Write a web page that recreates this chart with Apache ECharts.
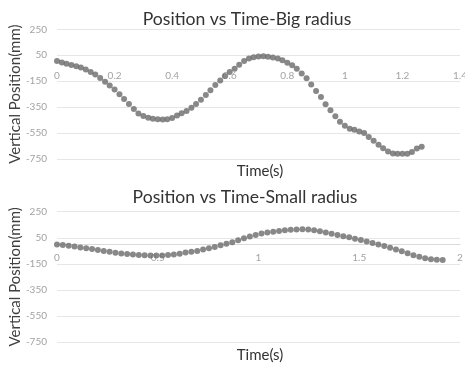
<!DOCTYPE html>
<html>
<head>
<meta charset="utf-8">
<script src="https://cdn.jsdelivr.net/npm/echarts@6/dist/echarts.min.js"></script>
<style>
  html, body { margin: 0; padding: 0; background: #fff; }
  #chart { width: 465px; height: 366px; }
</style>
</head>
<body>
<div id="chart"></div>
<script>
// Big radius run: time (s) and vertical position (mm)
const bigTime = [
  0, 0.017, 0.033, 0.05, 0.067, 0.083, 0.1, 0.117, 0.133, 0.15,
  0.167, 0.183, 0.2, 0.217, 0.233, 0.25, 0.267, 0.283, 0.3, 0.317,
  0.333, 0.35, 0.367, 0.383, 0.4, 0.417, 0.433, 0.45, 0.467, 0.483,
  0.5, 0.517, 0.533, 0.55, 0.567, 0.583, 0.6, 0.617, 0.633, 0.65,
  0.667, 0.683, 0.7, 0.717, 0.733, 0.75, 0.767, 0.783, 0.8, 0.817,
  0.833, 0.85, 0.867, 0.883, 0.9, 0.917, 0.933, 0.95, 0.967, 0.983,
  1.0, 1.017, 1.033, 1.05, 1.067, 1.083, 1.1, 1.117, 1.133, 1.15,
  1.167, 1.183, 1.2, 1.217, 1.233, 1.25, 1.267
];
const bigPos = [
  6, -6, -15, -25, -34, -45, -60, -80, -99, -125,
  -155, -183, -215, -250, -288, -326, -365, -400, -419, -432,
  -440, -443, -446, -444, -434, -414, -397, -380, -355, -326,
  -293, -256, -220, -180, -144, -110, -80, -55, -24, 5,
  24, 34, 40, 42, 38, 33, 24, 11, -7, -27,
  -54, -90, -128, -175, -225, -272, -328, -375, -420, -462,
  -493, -517, -525, -538, -550, -580, -609, -640, -668, -693,
  -708, -710, -710, -710, -696, -670, -655
];

// Small radius run: time (s) and vertical position (mm)
const smallTime = [
  0, 0.029, 0.058, 0.087, 0.116, 0.145, 0.174, 0.203, 0.232, 0.261,
  0.29, 0.319, 0.348, 0.377, 0.406, 0.435, 0.464, 0.493, 0.522, 0.551,
  0.58, 0.609, 0.638, 0.667, 0.696, 0.725, 0.754, 0.783, 0.812, 0.841,
  0.87, 0.899, 0.928, 0.957, 0.986, 1.015, 1.044, 1.073, 1.102, 1.131,
  1.16, 1.189, 1.218, 1.247, 1.276, 1.305, 1.334, 1.363, 1.392, 1.421,
  1.45, 1.479, 1.508, 1.537, 1.566, 1.595, 1.624, 1.653, 1.682, 1.711,
  1.74, 1.769, 1.798, 1.827, 1.856, 1.885, 1.914
];
const smallPos = [
  -2, -6, -12, -18, -24, -30, -37, -44, -51, -58,
  -65, -70, -75, -79, -82, -85, -87, -87, -86, -82,
  -78, -72, -64, -57, -51, -41, -31, -20, -8, 4,
  16, 31, 46, 60, 72, 82, 90, 96, 102, 107,
  111, 114, 115, 113, 108, 100, 91, 81, 71, 62,
  53, 43, 33, 22, 10, -2, -13, -26, -40, -54,
  -69, -84, -96, -107, -114, -118, -121
];

// Axis ranges and text
const yMin = -750, yMax = 250, yStep = 200;
const bigXMax = 1.4, bigXStep = 0.2;
const smallXMax = 2, smallXStep = 0.5;
const titles = ['Position vs Time-Big radius', 'Position vs Time-Small radius'];
const xName = 'Time(s)';
const yName = 'Vertical Position(mm)';

const FONT = 'Lato, "Open Sans", sans-serif';
const pair = (xs, ys) => xs.map((x, i) => [x, ys[i]]);

const grids = [
  { left: 57, right: 5, top: 29.3, height: 129.7, outerBoundsMode: 'none' },
  { left: 57, right: 5, top: 211.7, height: 130.3, outerBoundsMode: 'none' }
];

// The time axis crosses the position axis at 0 mm: lift it from the
// bottom edge of the plot by the share of the range that lies below 0.
function zeroLift(grid) {
  return -((0 - yMin) / (yMax - yMin)) * grid.height;
}

function xAxisFor(gridIndex, max, step, showLine) {
  return {
    type: 'value', gridIndex, min: 0, max, interval: step,
    position: 'bottom', offset: zeroLift(grids[gridIndex]),
    axisLine: { show: true, onZero: false,
      lineStyle: { color: showLine ? '#d9d9d9' : 'rgba(0,0,0,0)', width: 1 } },
    axisTick: { show: false },
    splitLine: { show: false },
    axisLabel: { color: '#a3a3a3', fontSize: 10, fontFamily: FONT, margin: 9 }
  };
}
function yAxisFor(gridIndex) {
  return {
    type: 'value', gridIndex, min: yMin, max: yMax, interval: yStep,
    name: yName, nameLocation: 'middle', nameRotate: 90, nameGap: 34,
    nameMoveOverlap: false,
    nameTextStyle: { color: '#404040', fontSize: 15, fontFamily: FONT },
    axisLine: { show: false }, axisTick: { show: false },
    splitLine: { lineStyle: { color: '#e6e6e6', width: 1 } },
    axisLabel: { color: '#a3a3a3', fontSize: 10, fontFamily: FONT, margin: 10 }
  };
}
function label(text, x, y, size) {
  return {
    type: 'text', x, y, silent: true,
    style: {
      text, fill: '#333', fontSize: size, fontFamily: FONT,
      align: 'center', verticalAlign: 'middle',
      textAlign: 'center', textVerticalAlign: 'middle'
    }
  };
}

const markerStyle = { color: '#6a6a6a' };

const chart = echarts.init(document.getElementById('chart'), null, { renderer: 'canvas' });
chart.setOption({
  animation: false,
  backgroundColor: '#ffffff',
  grid: grids,
  xAxis: [
    xAxisFor(0, bigXMax, bigXStep, false),
    xAxisFor(1, smallXMax, smallXStep, true)
  ],
  yAxis: [yAxisFor(0), yAxisFor(1)],
  series: [
    { type: 'scatter', xAxisIndex: 0, yAxisIndex: 0, symbolSize: 6,
      itemStyle: markerStyle, data: pair(bigTime, bigPos) },
    { type: 'scatter', xAxisIndex: 1, yAxisIndex: 1, symbolSize: 6,
      itemStyle: markerStyle, data: pair(smallTime, smallPos) }
  ],
  graphic: [
    label(titles[0], 247, 19, 17.6),
    label(xName, 260, 171, 15),
    label(titles[1], 245, 197, 17.6),
    label(xName, 260, 355, 15)
  ]
});
</script>
</body>
</html>
